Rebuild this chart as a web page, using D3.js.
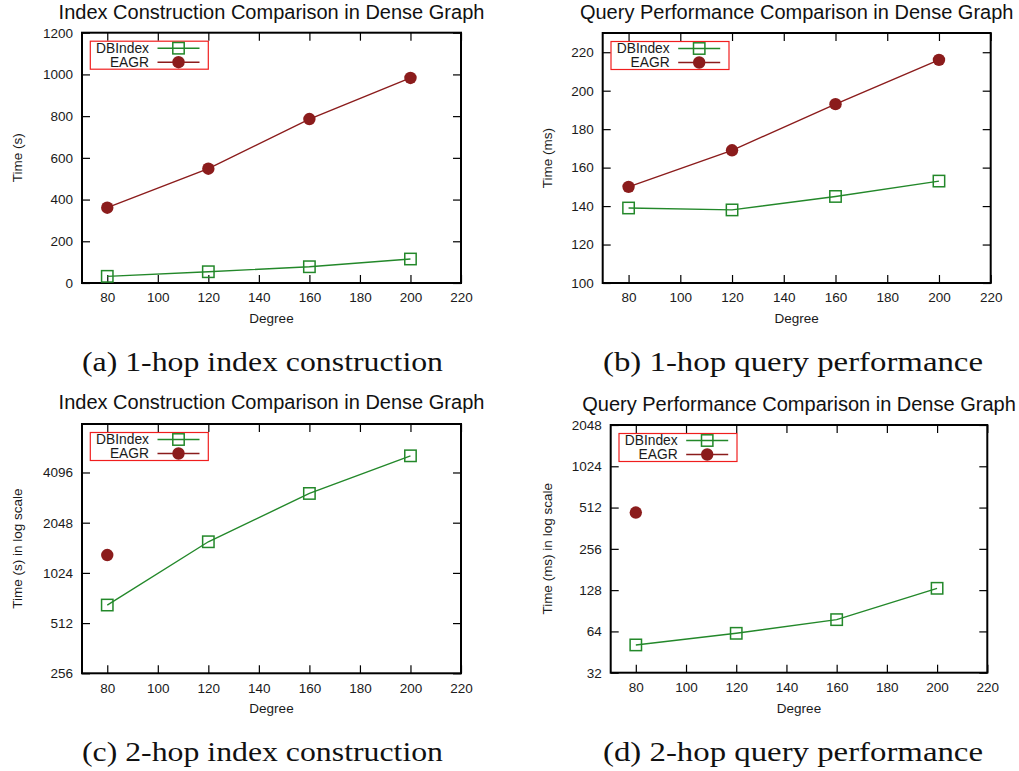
<!DOCTYPE html>
<html>
<head>
<meta charset="utf-8">
<script src="https://cdn.jsdelivr.net/npm/d3@7"></script>
<style>
  html, body { margin: 0; padding: 0; background: #ffffff; }
  svg { display: block; }
</style>
</head>
<body>
<svg id="chart" width="1019" height="771"></svg>
<script>
// ---------------- data ----------------
const degrees = [80, 120, 160, 200];
const xTicks = [80, 100, 120, 140, 160, 180, 200, 220];
const seriesNames = ["DBIndex", "EAGR"];

// (a) 1-hop index construction, time (s)
const buildDBIndex1 = [32, 54, 78, 115];
const buildEAGR1 = [361, 548, 786, 983];
const yTicksA = [0, 200, 400, 600, 800, 1000, 1200];

// (b) 1-hop query performance, time (ms)
const queryDBIndex1 = [139, 138, 145, 153];
const queryEAGR1 = [150, 169, 193, 216];
const yTicksB = [100, 120, 140, 160, 180, 200, 220];

// (c) 2-hop index construction, time (s) log scale
const buildDBIndex2 = [657, 1574, 3066, 5156];
const buildEAGR2Degrees = [80];
const buildEAGR2 = [1310];
const yTicksC = [256, 512, 1024, 2048, 4096];

// (d) 2-hop query performance, time (ms) log scale
const queryDBIndex2 = [51, 62, 78, 132];
const queryEAGR2Degrees = [80];
const queryEAGR2 = [471];
const yTicksD = [32, 64, 128, 256, 512, 1024, 2048];

const titles = [
  "Index Construction Comparison in Dense Graph",
  "Query Performance Comparison in Dense Graph",
  "Index Construction Comparison in Dense Graph",
  "Query Performance Comparison in Dense Graph"
];
const yLabels = ["Time (s)", "Time (ms)", "Time (s) in log scale", "Time (ms) in log scale"];
const xLabel = "Degree";
const captions = [
  "(a) 1-hop index construction",
  "(b) 1-hop query performance",
  "(c) 2-hop index construction",
  "(d) 2-hop query performance"
];

// ---------------- style / layout ----------------
const GREEN = "#23882a";
const RED = "#8b1c1c";
const LEGEND_BORDER = "#f01e1e";
const SANS = "'Liberation Sans', Arial, sans-serif";
const SERIF = "'Liberation Serif', 'Times New Roman', serif";

const panels = [
  { frame: {x0: 82, x1: 461, y0: 32.7, y1: 283}, titleY: 19, ylabX: 21.5, tickBase: 18.7, degBase: 39.5,
    yType: "linear", yDomain: [0, 1200], yTicks: yTicksA,
    series: [{name: seriesNames[0], xs: degrees, ys: buildDBIndex1, color: GREEN, marker: "square"},
             {name: seriesNames[1], xs: degrees, ys: buildEAGR1, color: RED, marker: "circle"}],
    caption: {x0: 82, x1: 443, y: 371} },
  { frame: {x0: 602.7, x1: 990.7, y0: 33, y1: 283}, titleY: 19, ylabX: 551.5, tickBase: 18.7, degBase: 39.5,
    yType: "linear", yDomain: [100, 230], yTicks: yTicksB,
    series: [{name: seriesNames[0], xs: degrees, ys: queryDBIndex1, color: GREEN, marker: "square"},
             {name: seriesNames[1], xs: degrees, ys: queryEAGR1, color: RED, marker: "circle"}],
    caption: {x0: 603, x1: 983, y: 371} },
  { frame: {x0: 82, x1: 461, y0: 424, y1: 673.3}, titleY: 409, ylabX: 21.5, tickBase: 19.7, degBase: 40,
    yType: "log", yDomain: [256, 8000], yTicks: yTicksC,
    series: [{name: seriesNames[0], xs: degrees, ys: buildDBIndex2, color: GREEN, marker: "square"},
             {name: seriesNames[1], xs: buildEAGR2Degrees, ys: buildEAGR2, color: RED, marker: "circle"}],
    caption: {x0: 82, x1: 443, y: 761} },
  { frame: {x0: 610.7, x1: 987.3, y0: 425, y1: 672.7}, titleY: 411, ylabX: 551.5, tickBase: 19, degBase: 40,
    yType: "log", yDomain: [32, 2048], yTicks: yTicksD,
    series: [{name: seriesNames[0], xs: degrees, ys: queryDBIndex2, color: GREEN, marker: "square"},
             {name: seriesNames[1], xs: queryEAGR2Degrees, ys: queryEAGR2, color: RED, marker: "circle"}],
    caption: {x0: 603, x1: 983, y: 761} }
];

const svg = d3.select("#chart");
svg.append("rect").attr("width", 1019).attr("height", 771).attr("fill", "#ffffff");

function drawMarker(g, type, cx, cy, color) {
  if (type === "square") {
    g.append("rect")
      .attr("x", cx - 5.7).attr("y", cy - 5.7)
      .attr("width", 11.4).attr("height", 11.4)
      .attr("fill", "none").attr("stroke", color).attr("stroke-width", 1.5);
  } else {
    g.append("circle").attr("cx", cx).attr("cy", cy).attr("r", 6.2).attr("fill", color);
  }
}

panels.forEach((p, i) => {
  const f = p.frame;
  const W = f.x1 - f.x0, H = f.y1 - f.y0;
  const g = svg.append("g").attr("transform", `translate(${f.x0},${f.y0})`);

  const x = d3.scaleLinear().domain([70, 220]).range([0, W]);
  const y = (p.yType === "log" ? d3.scaleLog().base(2) : d3.scaleLinear())
    .domain(p.yDomain).range([H, 0]);

  const styleAxis = (sel) => {
    sel.select(".domain").remove();
    sel.selectAll(".tick line").attr("stroke", "#000").attr("stroke-width", 1.2);
    sel.selectAll("text").attr("font-family", SANS).attr("font-size", 13.5).attr("fill", "#1a1a1a");
    sel.attr("font-family", null).attr("font-size", null);
  };

  // axes (ticks pointing inward, mirrored)
  g.append("g").call(d3.axisLeft(y).tickValues(p.yTicks).tickFormat(d3.format("d"))
      .tickSizeInner(-8).tickSizeOuter(0).tickPadding(9)).call(styleAxis);
  g.append("g").attr("transform", `translate(${W},0)`)
    .call(d3.axisRight(y).tickValues(p.yTicks).tickFormat(() => "")
      .tickSizeInner(-8).tickSizeOuter(0)).call(styleAxis);
  const bx = g.append("g").attr("transform", `translate(0,${H})`)
    .call(d3.axisBottom(x).tickValues(xTicks).tickFormat(d3.format("d"))
      .tickSizeInner(-8).tickSizeOuter(0).tickPadding(0)).call(styleAxis);
  bx.selectAll("text").attr("dy", null).attr("y", p.tickBase);
  g.append("g").call(d3.axisTop(x).tickValues(xTicks).tickFormat(() => "")
      .tickSizeInner(-8).tickSizeOuter(0)).call(styleAxis);

  // frame
  g.append("rect").attr("x", 0).attr("y", 0).attr("width", W).attr("height", H)
    .attr("fill", "none").attr("stroke", "#000").attr("stroke-width", 2);

  // series
  p.series.forEach(s => {
    const pts = s.xs.map((d, k) => [d, s.ys[k]]);
    if (pts.length > 1) {
      g.append("path").datum(pts)
        .attr("d", d3.line().x(d => x(d[0])).y(d => y(d[1])))
        .attr("fill", "none").attr("stroke", s.color).attr("stroke-width", 1.4);
    }
    pts.forEach(d => drawMarker(g, s.marker, x(d[0]), y(d[1]), s.color));
  });

  // legend
  const lg = g.append("g");
  lg.append("rect").attr("x", 8.3).attr("y", 8.5).attr("width", 118).attr("height", 28)
    .attr("fill", "#fff").attr("stroke", LEGEND_BORDER).attr("stroke-width", 1.2);
  p.series.forEach((s, k) => {
    const ry = 15.5 + k * 14;
    lg.append("text").attr("x", 67).attr("y", ry).attr("dy", "0.36em")
      .attr("text-anchor", "end").attr("font-family", SANS).attr("font-size", 13.8)
      .attr("fill", "#1a1a1a").text(s.name);
    lg.append("line").attr("x1", 75.5).attr("x2", 117.5).attr("y1", ry).attr("y2", ry)
      .attr("stroke", s.color).attr("stroke-width", 1.4);
    drawMarker(lg, s.marker, 96.5, ry, s.color);
  });

  // title
  svg.append("text").attr("x", f.x0 + W / 2).attr("y", p.titleY)
    .attr("text-anchor", "middle").attr("font-family", SANS).attr("font-size", 20)
    .attr("fill", "#111").text(titles[i]);

  // x label
  svg.append("text").attr("x", f.x0 + W / 2).attr("y", f.y1 + p.degBase)
    .attr("text-anchor", "middle").attr("font-family", SANS).attr("font-size", 13.5)
    .attr("fill", "#1a1a1a").text(xLabel);

  // y label
  svg.append("text")
    .attr("transform", `translate(${p.ylabX},${f.y0 + H / 2}) rotate(-90)`)
    .attr("text-anchor", "middle").attr("font-family", SANS).attr("font-size", 13.5)
    .attr("fill", "#1a1a1a").text(yLabels[i]);

  // caption
  svg.append("text").attr("x", p.caption.x0).attr("y", p.caption.y)
    .attr("font-family", SERIF).attr("font-size", 28).attr("fill", "#111")
    .attr("textLength", p.caption.x1 - p.caption.x0).attr("lengthAdjust", "spacingAndGlyphs")
    .text(captions[i]);
});
</script>
</body>
</html>
